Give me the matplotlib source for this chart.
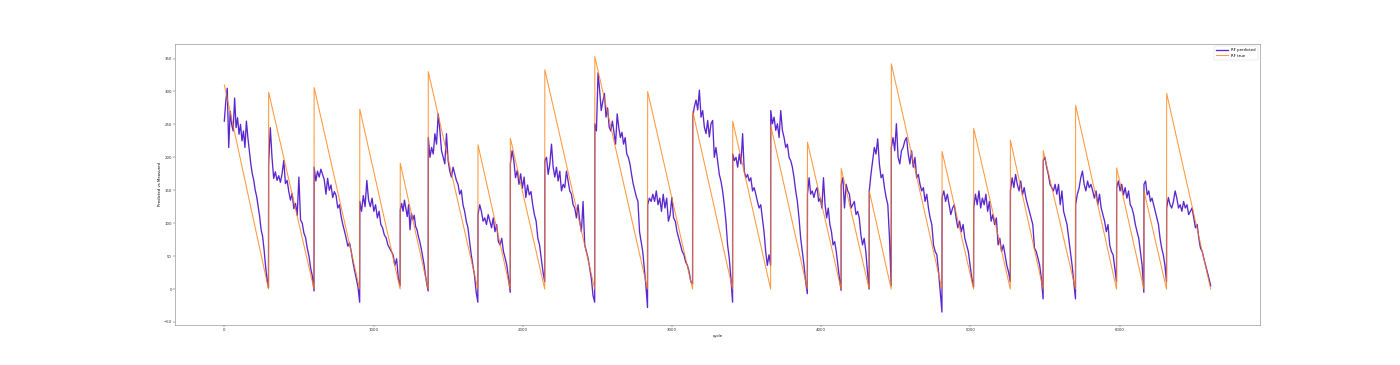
import numpy as np
import matplotlib
matplotlib.use("Agg")
import matplotlib.pyplot as plt

# ---- data ----
# engine (segment) lengths in cycles and true RUL at segment start
seg_lengths = [297, 305, 306, 271, 188, 333, 217, 231, 335, 354, 302, 268, 255,
               246, 226, 188, 148, 340, 212, 246, 220, 217, 275, 183, 152, 296]
seg_peaks = [310, 299, 306, 273, 191, 330, 219, 229, 333, 353, 300, 270, 255,
             248, 223, 183, 149, 342, 209, 244, 226, 210, 279, 184, 149, 297]

# RF predicted values per segment (sampled evenly along each segment)
pred_segments = [
    [255, 285, 305, 215, 270, 250, 240, 290, 245, 260, 235, 250, 225, 240, 215, 255,
     230, 210, 190, 175, 165, 150, 140, 125, 110, 90, 80, 60, 35, 15, 2],
    [190, 245, 200, 168, 178, 165, 172, 162, 175, 195, 160, 165, 148, 135, 145, 122,
     130, 112, 170, 105, 100, 85, 78, 62, 50, 32, 20, -3],
    [185, 164, 179, 170, 182, 174, 166, 144, 168, 150, 158, 139, 148, 142, 123, 128,
     110, 98, 88, 77, 65, 70, 57, 41, 28, 16, 3, -20],
    [133, 118, 142, 125, 165, 135, 125, 138, 118, 128, 108, 118, 98, 93, 82, 78, 67,
     62, 57, 52, 36, 46, 16, 5],
    [120, 130, 118, 135, 122, 110, 128, 90, 115, 105, 112, 95, 90, 80, 72, 62, 50, 38,
     22, 8, -3],
    [230, 200, 215, 205, 236, 220, 266, 241, 210, 200, 190, 236, 195, 179, 170, 185,
     175, 165, 159, 144, 150, 128, 118, 103, 93, 72, 52, 36, 20, -5, -20],
    [113, 128, 118, 103, 108, 98, 113, 103, 93, 108, 87, 98, 72, 67, 77, 57, 47, 36,
     16, -5],
    [190, 210, 195, 169, 180, 159, 175, 153, 170, 139, 158, 143, 148, 128, 113, 103,
     77, 67, 47, 26, 11],
    [195, 200, 174, 190, 220, 185, 170, 185, 164, 179, 149, 159, 154, 179, 164, 149,
     144, 128, 123, 108, 128, 103, 87, 133, 67, 57, 47, 31, 16, -10, -20],
    [251, 240, 328, 302, 271, 285, 297, 261, 275, 246, 240, 255, 238, 220, 266, 245,
     230, 238, 220, 230, 205, 200, 190, 174, 160, 150, 140, 133, 87, 72, 57, 31, 5, -28],
    [128, 138, 133, 144, 133, 149, 128, 138, 118, 144, 123, 138, 103, 113, 139, 108,
     103, 87, 77, 67, 57, 52, 41, 36, 26, 11, 8],
    [261, 277, 287, 272, 302, 261, 271, 246, 236, 256, 231, 251, 256, 200, 215, 195,
     174, 164, 149, 128, 103, 67, 47, 16, -20],
    [205, 195, 200, 185, 205, 190, 236, 179, 169, 174, 164, 169, 149, 154, 144, 133,
     123, 128, 108, 87, 57, 36, 52, 36],
    [271, 251, 261, 241, 251, 230, 271, 241, 230, 215, 220, 200, 195, 185, 169, 149,
     133, 108, 77, 57, 36, 11, -7],
    [144, 169, 144, 149, 139, 149, 154, 133, 138, 123, 169, 128, 108, 123, 98, 87, 67,
     72, 57, 36, 16, -2],
    [159, 169, 123, 159, 149, 144, 123, 128, 133, 113, 118, 108, 82, 67, 77, 57, 26, 0],
    [149, 174, 195, 215, 205, 228, 190, 169, 174, 154, 139, 128, 77, 5],
    [215, 230, 210, 251, 200, 190, 210, 215, 225, 230, 205, 190, 210, 185, 200, 169,
     174, 159, 149, 154, 133, 144, 123, 108, 98, 67, 57, 52, 26, -5, -35],
    [139, 149, 133, 144, 128, 113, 123, 128, 108, 93, 103, 87, 98, 77, 67, 57, 36, 16, 3],
    [123, 144, 128, 149, 123, 138, 128, 144, 118, 133, 103, 113, 98, 108, 67, 77, 57,
     67, 52, 36, 26, 11],
    [149, 169, 154, 174, 159, 149, 164, 143, 154, 138, 128, 118, 108, 98, 62, 57, 47,
     36, 16, -15],
    [195, 200, 185, 174, 159, 154, 149, 159, 144, 159, 128, 149, 118, 108, 98, 77, 57,
     36, 11, -15],
    [128, 144, 153, 169, 179, 159, 149, 164, 154, 159, 149, 138, 149, 128, 144, 123,
     113, 103, 87, 98, 67, 57, 52, 31, 11],
    [154, 164, 149, 159, 143, 154, 138, 149, 128, 123, 113, 98, 87, 77, 57, 36, -5],
    [159, 164, 143, 149, 133, 138, 128, 118, 108, 98, 77, 62, 52, 36, 11],
    [123, 139, 128, 123, 133, 149, 138, 123, 128, 118, 133, 123, 128, 113, 118, 123,
     108, 93, 98, 77, 62, 57, 46, 36, 26, 16, 5],
]

x_ticks = [0, 1000, 2000, 3000, 4000, 5000, 6000]
y_ticks = [-50, 0, 50, 100, 150, 200, 250, 300, 350]

# ---- build series ----
starts = np.concatenate([[0], np.cumsum(seg_lengths)[:-1]])
true_x, true_y, pred_x, pred_y = [], [], [], []
for s, L, pk, vals in zip(starts, seg_lengths, seg_peaks, pred_segments):
    true_x += [s, s + L - 1]
    true_y += [pk, 0]
    pred_x += list(np.linspace(s, s + L - 1, len(vals)))
    pred_y += vals

fig, ax = plt.subplots(figsize=(14, 3.65), dpi=100)
ax.plot(pred_x, pred_y, color="#5b27cf", lw=0.95, label="RF predicted")
ax.plot(true_x, true_y, color="#ff7f0e", lw=0.75, alpha=0.8, label="RF true")

ax.set_xticks(x_ticks)
ax.set_yticks(y_ticks)
ax.tick_params(labelsize=2.8, width=0.3, length=1.2, pad=1, colors="#333333")
for sp in ax.spines.values():
    sp.set_linewidth(0.5)
    sp.set_color("#999999")
ax.set_xlabel("cycle", fontsize=2.8, labelpad=1.5)
ax.set_ylabel("Predicted vs Measured", fontsize=2.8, labelpad=1.5)
leg = ax.legend(loc="upper right", fontsize=2.8, handlelength=3, borderpad=0.6,
                labelspacing=0.4, framealpha=0.8)
leg.get_frame().set_linewidth(0.3)

fig.savefig("out.png", dpi=100)
